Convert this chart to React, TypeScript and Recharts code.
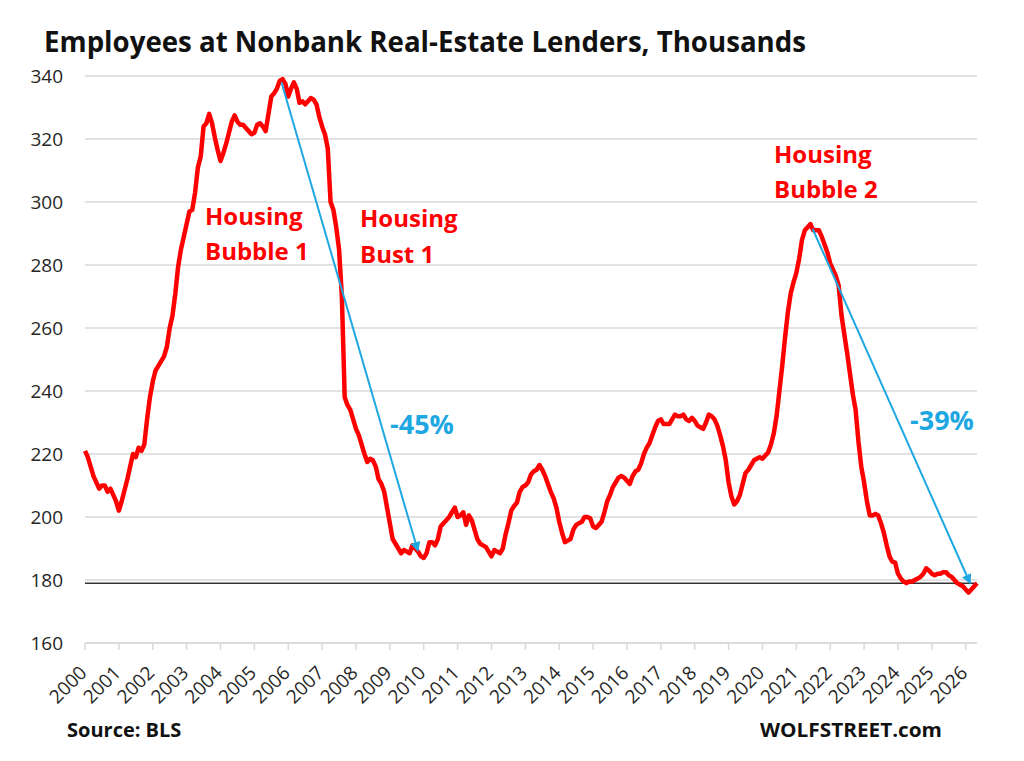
import React from "react";
import { LineChart, Line, XAxis, YAxis, CartesianGrid, ReferenceLine } from "recharts";

// monthly employees, thousands, Jan 2000 onward
const START_YEAR = 2000;
const EMPLOYEES = [
  221, 219, 216, 213, 211, 209, 210, 210, 208, 209, 207, 205, // 2000
  202, 205, 208.5, 212, 216, 220, 219, 222, 221, 223, 231, 238, // 2001
  243, 246.5, 248, 249.5, 251, 254, 260, 264, 271, 279.5, 285, 289, // 2002
  293, 297, 297.5, 303, 311, 314.5, 324, 325, 328, 325, 320.5, 316.5, // 2003
  313, 315.5, 318.5, 322, 325.5, 327.5, 325.5, 324.5, 324.5, 323.5, 322.5, 321.5, // 2004
  322, 324.5, 325, 324, 322.5, 328, 333.5, 334.5, 336, 338.5, 339, 337.5, // 2005
  333.5, 336, 338, 336, 331.5, 332, 331, 332, 333, 332.5, 331, 327, // 2006
  324, 321.5, 317, 300, 297.5, 292, 285, 270, 238, 235.5, 234, 231, // 2007
  228, 226, 223, 220, 217.5, 218.5, 218, 216, 212, 210.5, 208, 203, // 2008
  198, 193, 191.5, 190, 188.5, 189.5, 189, 188.5, 191, 190, 189, 187.5, // 2009
  187, 188.5, 192, 192, 191, 193, 197, 198, 199, 200, 201.5, 203, // 2010
  200, 200.5, 201.5, 197.5, 200.5, 199, 196, 193, 191.5, 191, 190.5, 189, // 2011
  187.5, 189.5, 189, 188.5, 190, 194.5, 198, 202, 203.5, 204.5, 208, 209.5, // 2012
  210, 211, 213.5, 214.5, 215, 216.5, 215, 213, 210.5, 208, 206, 203, // 2013
  198.5, 195, 192, 192.5, 193, 196, 197.5, 198, 198.5, 200, 200, 199.5, // 2014
  197, 196.5, 197.5, 198.5, 201.5, 205, 207, 209.5, 211, 212.5, 213, 212.5, // 2015
  211.5, 210.5, 213, 214.5, 215, 217, 220, 222, 223.5, 226, 228.5, 230.5, // 2016
  231, 229.5, 229.5, 229.5, 231, 232.5, 232, 232, 232.5, 231, 230.5, 231.5, // 2017
  230.5, 229, 228.5, 228, 230, 232.5, 232, 231, 229, 226, 222.5, 218, // 2018
  211, 206.5, 204, 205, 207, 210.5, 214, 215, 216.5, 218, 218.5, 219, // 2019
  218.5, 219.5, 220.5, 223, 226.5, 232, 240, 248, 257, 265, 271, 274.5, // 2020
  277.5, 282, 288, 291, 292, 293, 291, 291, 291, 289, 286.5, 284, // 2021
  280.5, 278.5, 276.5, 273.5, 264, 258, 252, 245.5, 239, 234, 224, 216, // 2022
  211, 205, 200.5, 200.5, 201, 200.5, 198, 195, 191, 187.5, 185.8, 185.5, // 2023
  182, 180.5, 179.5, 179, 179.5, 179.5, 180, 180.5, 181, 182, 183.7, 183, // 2024
  182, 181.5, 182, 182, 182.5, 182.5, 181.5, 181, 180, 179, 178.5, 178, // 2025
  177, 176, 177, 178, 179, // 2026
];

const YEAR_TICKS = [
  2000, 2001, 2002, 2003, 2004, 2005, 2006, 2007, 2008, 2009, 2010, 2011, 2012, 2013,
  2014, 2015, 2016, 2017, 2018, 2019, 2020, 2021, 2022, 2023, 2024, 2025, 2026,
];
const Y_TICKS = [160, 180, 200, 220, 240, 260, 280, 300, 320, 340];
const FLOOR_LEVEL = 179;

// blue drop arrows: [year, thousands] start and end
const BUST1_ARROW = [{ x: 2005.8, y: 338 }, { x: 2009.82, y: 189.5 }];
const BUST2_ARROW = [{ x: 2021.48, y: 291.5 }, { x: 2026.12, y: 179.2 }];

const data = EMPLOYEES.map((v, i) => ({ t: START_YEAR + i / 12, v }));

const RED = "#ff0000";
const BLUE = "#1ea7e1";
const FONT = "'Open Sans', sans-serif";

const YearTick = (props: any) => {
  const { x, y, payload } = props;
  const ax = x + 3;
  const ay = y + 24;
  return (
    <text x={ax} y={ay} transform={`rotate(-45, ${ax}, ${ay})`} textAnchor="end"
      fontSize={19} fill="#262626" fontFamily={FONT}>
      {payload.value}
    </text>
  );
};

const Arrow = (id: string) => (p: any) => (
  <g>
    <defs>
      <marker id={id} markerWidth="10" markerHeight="10" refX="8" refY="5" orient="auto" markerUnits="userSpaceOnUse">
        <path d="M0,0 L10,5 L0,10 z" fill={BLUE} />
      </marker>
    </defs>
    <line x1={p.x1} y1={p.y1} x2={p.x2} y2={p.y2} stroke={BLUE} strokeWidth={2} markerEnd={`url(#${id})`} />
  </g>
);

export default function App() {
  return (
    <div style={{ position: "relative", width: 1008, height: 745, background: "#fff" }}>
      <LineChart width={1008} height={745} data={data} margin={{ top: 68, right: 39, bottom: 50, left: 17 }}>
        <CartesianGrid vertical={false} stroke="#d9d9d9" strokeWidth={1.5} />
        <XAxis dataKey="t" type="number" domain={["dataMin", "dataMax"]} ticks={YEAR_TICKS} interval={0}
          height={60} tickSize={7} tickMargin={0} stroke="#d9d9d9" strokeWidth={1.5} tick={<YearTick />} />
        <YAxis domain={[160, 340]} ticks={Y_TICKS} width={60} axisLine={false} tickLine={false}
          tickSize={0} tickMargin={22} tick={{ fontSize: 19, fill: "#262626", fontFamily: FONT }} />
        <ReferenceLine y={FLOOR_LEVEL} stroke="#333" strokeWidth={1.5} />
        <Line type="linear" dataKey="v" stroke={RED} strokeWidth={4.5} dot={false}
          strokeLinejoin="round" isAnimationActive={false} />
        <ReferenceLine segment={BUST1_ARROW} ifOverflow="visible" shape={Arrow("arr1")} />
        <ReferenceLine segment={BUST2_ARROW} ifOverflow="visible" shape={Arrow("arr2")} />
      </LineChart>
      <svg width={1008} height={745} style={{ position: "absolute", left: 0, top: 0, pointerEvents: "none" }}
        fontFamily={FONT} fontWeight="bold">
        <text x={36} y={44} fontSize={28} fill="#111" textLength={762} lengthAdjust="spacingAndGlyphs">
          Employees at Nonbank Real-Estate Lenders, Thousands
        </text>
        <g fill={RED} fontSize={24}>
          <text x={197} y={217}>Housing</text>
          <text x={197} y={252}>Bubble 1</text>
          <text x={352} y={219}>Housing</text>
          <text x={352} y={255}>Bust 1</text>
          <text x={766} y={155}>Housing</text>
          <text x={766} y={190}>Bubble 2</text>
        </g>
        <g fill={BLUE} fontSize={27}>
          <text x={382} y={426}>-45%</text>
          <text x={902} y={422}>-39%</text>
        </g>
        <text x={59} y={729} fontSize={20} fill="#111">Source: BLS</text>
        <text x={752} y={729} fontSize={20} fill="#111" textLength={182} lengthAdjust="spacingAndGlyphs">
          WOLFSTREET.com
        </text>
      </svg>
    </div>
  );
}
